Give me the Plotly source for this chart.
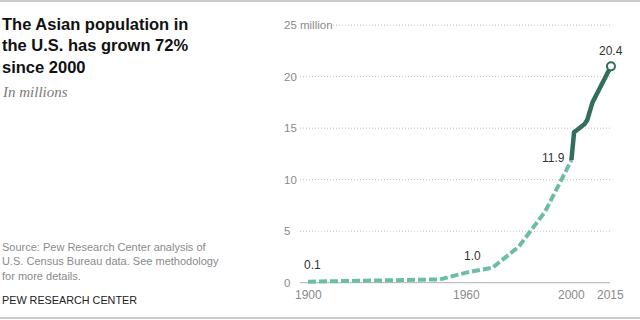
import plotly.graph_objects as go

# Data (millions)
census_years = [1900, 1910, 1920, 1930, 1940, 1950, 1960, 1970, 1980, 1990, 2000]
census_values = [0.1, 0.15, 0.18, 0.25, 0.26, 0.32, 0.98, 1.45, 3.5, 6.9, 11.9]
recent_years = [2000, 2001, 2002, 2003, 2004, 2005, 2006, 2007, 2008, 2009, 2010, 2011, 2012, 2013, 2014, 2015]
recent_values = [11.9, 14.6, 14.8, 15.0, 15.2, 15.4, 15.8, 16.8, 17.5, 18.0, 18.5, 19.0, 19.5, 20.0, 20.5, 21.0]
y_ticks = [0, 5, 10, 15, 20, 25]
y_tick_labels = ["0", "5", "10", "15", "20", "25 million"]
x_ticks = [1900, 1960, 2000, 2015]
x_tick_labels = ["1900", "1960", "2000", "2015"]
point_labels = [(1900, 0.1, "0.1"), (1960, 0.98, "1.0"), (2000, 11.9, "11.9"), (2015, 21.0, "20.4")]

W, H = 640, 320
L, R, T, B = 300, 28, 20, 27
PW = W - L - R
PH = H - T - B

def px(xp):
    return (xp - L) / PW

def py(yp):
    return 1 - (yp - T) / PH

fig = go.Figure()
fig.add_trace(go.Scatter(x=census_years, y=census_values, mode="lines",
                         line=dict(color="#6cbda6", width=4, dash="8px,3px"),
                         hoverinfo="skip", showlegend=False))
fig.add_trace(go.Scatter(x=recent_years, y=recent_values, mode="lines",
                         line=dict(color="#336d5d", width=4.5),
                         hoverinfo="skip", showlegend=False))
fig.add_trace(go.Scatter(x=[recent_years[-1]], y=[recent_values[-1]], mode="markers",
                         marker=dict(size=8, color="white", line=dict(color="#336d5d", width=2)),
                         cliponaxis=False, hoverinfo="skip", showlegend=False))

shapes = []
for v, lab in zip(y_ticks, y_tick_labels):
    x0 = px(333) if lab.endswith("million") else 0
    if v == 0:
        shapes.append(dict(type="line", xref="paper", yref="y", x0=0, x1=px(610), y0=v, y1=v,
                           line=dict(color="#b0b0b0", width=1), layer="below"))
    else:
        shapes.append(dict(type="line", xref="paper", yref="y", x0=x0, x1=px(610), y0=v, y1=v,
                           line=dict(color="#bdbdbd", width=1, dash="1px,2px"), layer="below"))
# top & bottom rules
shapes.append(dict(type="line", xref="paper", yref="paper", x0=px(0), x1=px(640), y0=py(1), y1=py(1),
                   line=dict(color="#bbbbbb", width=1.5)))
shapes.append(dict(type="line", xref="paper", yref="paper", x0=px(0), x1=px(640), y0=py(318), y1=py(318),
                   line=dict(color="#bbbbbb", width=1.5)))

ann = []
for v, lab in zip(y_ticks, y_tick_labels):
    ann.append(dict(x=px(282), y=v, xref="paper", yref="y", text=lab, showarrow=False,
                    xanchor="left", yanchor="middle", font=dict(size=11.5, color="#8a8a8a")))
for v, lab in zip(x_ticks, x_tick_labels):
    ann.append(dict(x=v, y=0, xref="x", yref="y", text=lab, showarrow=False,
                    xanchor="center", yanchor="top", yshift=-3, font=dict(size=12, color="#8a8a8a")))
for xv, yv, lab in point_labels:
    if lab == "11.9":
        ann.append(dict(x=xv, y=yv, xref="x", yref="y", text=lab, showarrow=False,
                        xanchor="right", yanchor="middle", xshift=-4, yshift=2,
                        font=dict(size=12, color="#333333")))
    elif lab == "20.4":
        ann.append(dict(x=xv, y=yv, xref="x", yref="y", text=lab, showarrow=False,
                        xanchor="center", yanchor="bottom", yshift=6,
                        font=dict(size=12, color="#333333")))
    else:
        ann.append(dict(x=xv, y=yv, xref="x", yref="y", text=lab, showarrow=False,
                        xanchor="center", yanchor="bottom",
                        xshift=4 if lab == "0.1" else 6, yshift=8,
                        font=dict(size=12, color="#333333")))

ann.append(dict(x=px(0), y=py(13), xref="paper", yref="paper",
                text="<b>The Asian population in<br>the U.S. has grown 72%<br>since 2000</b>",
                showarrow=False, xanchor="left", yanchor="top", align="left",
                font=dict(family="Liberation Sans, Arial, sans-serif", size=16.5, color="#111111")))
ann.append(dict(x=px(0), y=py(82), xref="paper", yref="paper",
                text="<i>In millions</i>", showarrow=False, xanchor="left", yanchor="top", align="left",
                font=dict(family="Liberation Serif, Georgia, serif", size=15, color="#7a7a7a")))
ann.append(dict(x=px(0), y=py(239), xref="paper", yref="paper",
                text="Source: Pew Research Center analysis of<br>U.S. Census Bureau data. See methodology<br>for more details.",
                showarrow=False, xanchor="left", yanchor="top", align="left",
                font=dict(size=11, color="#8a8a8a")))
ann.append(dict(x=px(0), y=py(292), xref="paper", yref="paper",
                text="PEW RESEARCH CENTER", showarrow=False, xanchor="left", yanchor="top", align="left",
                font=dict(size=10.8, color="#222222")))

fig.update_layout(
    width=W, height=H, margin=dict(l=L, r=R, t=T, b=B),
    paper_bgcolor="white", plot_bgcolor="white",
    font=dict(family="Liberation Sans, Arial, sans-serif"),
    xaxis=dict(range=[1896.96, 2015.4], visible=False, fixedrange=True),
    yaxis=dict(range=[-1, 25.5], visible=False, fixedrange=True),
    shapes=shapes, annotations=ann, showlegend=False,
)
fig.write_html("out.html", config={"displayModeBar": False})
